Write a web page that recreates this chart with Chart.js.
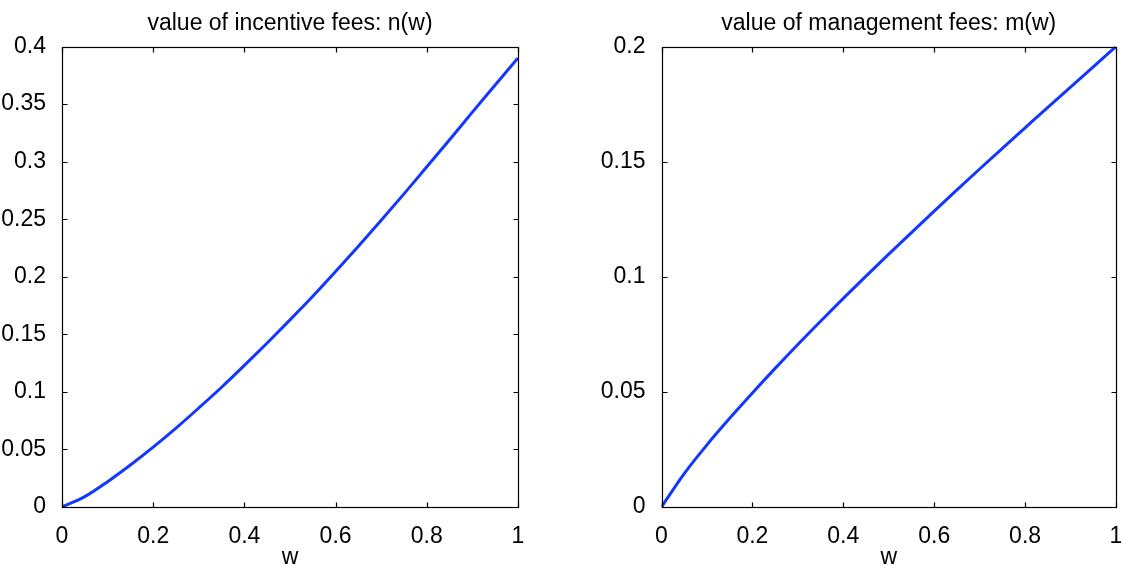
<!DOCTYPE html>
<html>
<head>
<meta charset="utf-8">
<script src="https://cdn.jsdelivr.net/npm/chart.js@4.4.0/dist/chart.umd.min.js"></script>
<style>
    html, body { margin: 0; padding: 0; background: #fff; overflow: hidden; }
    #wrap { position: relative; width: 1121px; height: 565px; overflow: hidden; }
    canvas { position: absolute; top: 0; }
    #graficaIncentivo { left: 0; }
    #graficaGestion { left: 600px; }
</style>
</head>
<body>
<div id="wrap">
    <canvas id="graficaIncentivo" width="580" height="571"></canvas>
    <canvas id="graficaGestion" width="540" height="571"></canvas>
</div>
<script>
// datos
const wValues = [0, 0.05, 0.1, 0.15, 0.2, 0.25, 0.3, 0.35, 0.4, 0.45, 0.5,
                 0.55, 0.6, 0.65, 0.7, 0.75, 0.8, 0.85, 0.9, 0.95, 1];
const incentiveFees = [0, 0.009, 0.022, 0.0365, 0.052, 0.0685, 0.086, 0.104, 0.123, 0.1425, 0.1625,
                       0.183, 0.2045, 0.2265, 0.249, 0.272, 0.2955, 0.319, 0.343, 0.3665, 0.39];
const managementFees = [0, 0.0145, 0.027, 0.0385, 0.0495, 0.0602, 0.0706, 0.0807, 0.0906, 0.1003, 0.1098,
                        0.1192, 0.1285, 0.1377, 0.1468, 0.1558, 0.1647, 0.1736, 0.1824, 0.1912, 0.2];

const xTicks = [0, 0.2, 0.4, 0.6, 0.8, 1];
const yTicksIncentive = [0, 0.05, 0.1, 0.15, 0.2, 0.25, 0.3, 0.35, 0.4];
const yTicksManagement = [0, 0.05, 0.1, 0.15, 0.2];

const FONT = '"Liberation Sans", Arial, Helvetica, sans-serif';

// Marco tipo matlab: caja, marcas hacia dentro y título centrado sobre el área
const framePlugin = {
    id: 'frame',
    afterDraw: function(chart, args, opts) {
        var ctx = chart.ctx;
        var a = chart.chartArea;
        var x = chart.scales.x, y = chart.scales.y;
        var L = Math.round(a.left) + 0.5, R = Math.round(a.right) + 0.5;
        var T = Math.round(a.top) + 0.5, B = Math.round(a.bottom) + 0.5;
        var tl = 5;
        ctx.save();
        ctx.strokeStyle = '#000';
        ctx.lineWidth = 1.2;
        ctx.strokeRect(L, T, R - L, B - T);
        ctx.beginPath();
        x.ticks.forEach(function(t) {
            var px = Math.round(x.getPixelForValue(t.value)) + 0.5;
            ctx.moveTo(px, B); ctx.lineTo(px, B - tl);
            ctx.moveTo(px, T); ctx.lineTo(px, T + tl);
        });
        y.ticks.forEach(function(t) {
            var py = Math.round(y.getPixelForValue(t.value)) + 0.5;
            ctx.moveTo(L, py); ctx.lineTo(L + tl, py);
            ctx.moveTo(R, py); ctx.lineTo(R - tl, py);
        });
        ctx.stroke();
        ctx.fillStyle = '#000';
        ctx.font = '23px ' + FONT;
        ctx.textAlign = 'center';
        ctx.textBaseline = 'middle';
        ctx.fillText(opts.text, (a.left + a.right) / 2, 24);
        ctx.restore();
    }
};

function fmt(v) {
    return String(+Number(v).toFixed(4));
}

function render_graph(canvasId, title, values, yMax, yTicks, yWidth, padRight) {
    var ctx = document.getElementById(canvasId).getContext('2d');
    var points = wValues.map(function(w, i) { return {x: w, y: values[i]}; });

    return new Chart(ctx, {
        type: 'line',
        data: {
            datasets: [{
                data: points,
                borderColor: '#1238ff',
                borderWidth: 3,
                pointRadius: 0,
                fill: false,
                cubicInterpolationMode: 'monotone'
            }]
        },
        options: {
            responsive: false,
            animation: false,
            layout: { padding: { top: 46.5, right: padRight, bottom: 0, left: 0 } },
            plugins: {
                legend: { display: false },
                tooltip: { enabled: false },
                frame: { text: title }
            },
            scales: {
                x: {
                    type: 'linear',
                    min: 0,
                    max: 1,
                    grid: { display: false },
                    border: { display: false },
                    afterBuildTicks: function(s) { s.ticks = xTicks.map(function(v) { return {value: v}; }); },
                    afterFit: function(s) { s.height = 64; },
                    ticks: {
                        color: '#000',
                        padding: 8,
                        maxRotation: 0,
                        font: { family: FONT, size: 23 },
                        callback: fmt
                    },
                    title: {
                        display: true,
                        text: 'w',
                        color: '#000',
                        font: { family: FONT, size: 23 },
                        padding: 0
                    }
                },
                y: {
                    type: 'linear',
                    min: 0,
                    max: yMax,
                    grid: { display: false },
                    border: { display: false },
                    afterBuildTicks: function(s) { s.ticks = yTicks.map(function(v) { return {value: v}; }); },
                    afterFit: function(s) { s.width = yWidth; },
                    ticks: {
                        color: '#000',
                        padding: 8,
                        font: { family: FONT, size: 23 },
                        callback: fmt
                    }
                }
            }
        },
        plugins: [framePlugin]
    });
}

render_graph('graficaIncentivo', 'value of incentive fees: n(w)', incentiveFees, 0.4, yTicksIncentive, 62, 62);
render_graph('graficaGestion', 'value of management fees: m(w)', managementFees, 0.2, yTicksManagement, 61.5, 24);
</script>
</body>
</html>
